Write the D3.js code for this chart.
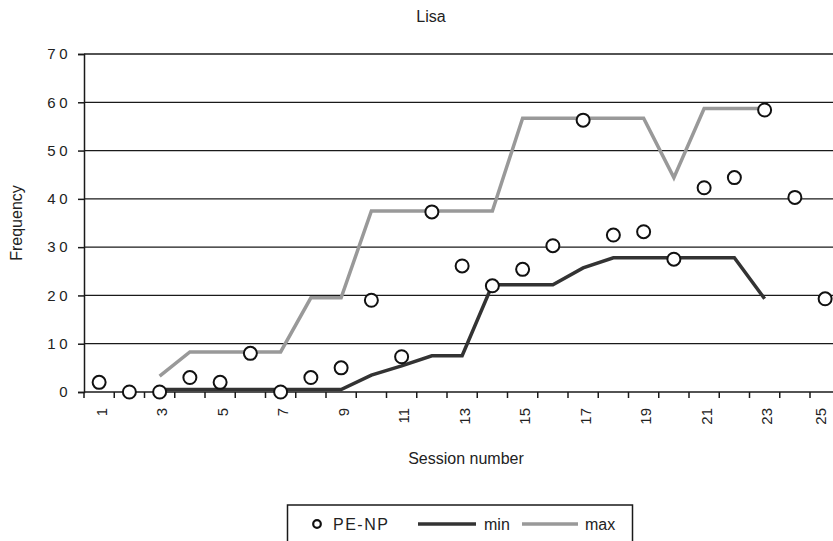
<!DOCTYPE html>
<html>
<head>
<meta charset="utf-8">
<script src="https://cdn.jsdelivr.net/npm/d3@7"></script>
<style>
  html, body { margin: 0; padding: 0; background: #fff; }
  svg { display: block; font-family: "Liberation Sans", Arial, sans-serif; }
</style>
</head>
<body>
<svg id="chart" width="833" height="541"></svg>
<script>
const sessions = d3.range(1, 26);
const peNp = [2, 0, 0, 3, 2, 8, 0, 3, 5, 19, 7.3, 37.3, 26.1, 22, 25.4, 30.3, 56.3, 32.5, 33.2, 27.5, 42.3, 44.4, 58.4, 40.3, 19.3];
const minVals = [null, null, 0.5, 0.5, 0.5, 0.5, 0.5, 0.5, 0.5, 3.5, 5.4, 7.5, 7.5, 22.2, 22.2, 22.2, 25.7, 27.8, 27.8, 27.8, 27.8, 27.8, 19.3, null, null];
const maxVals = [null, null, 3.3, 8.3, 8.3, 8.3, 8.3, 19.5, 19.5, 37.5, 37.5, 37.5, 37.5, 37.5, 56.7, 56.7, 56.7, 56.7, 56.7, 44.4, 58.7, 58.7, 58.7, null, null];
const yTicks = [0, 10, 20, 30, 40, 50, 60, 70];
const xLabels = sessions.filter(d => d % 2 === 1);

const svg = d3.select("#chart");
const pLeft = 84, pRight = 840.25, pTop = 54, pBottom = 392;
const FONT = "Liberation Sans, Arial, sans-serif";

const x = d3.scaleBand().domain(sessions).range([pLeft, pRight]).padding(0);
const y = d3.scaleLinear().domain([0, 70]).range([pBottom, pTop]);
const cx = d => x(d) + x.bandwidth() / 2;

// gridlines
svg.append("g").selectAll("line").data(yTicks.filter(d => d > 0)).join("line")
  .attr("x1", pLeft).attr("x2", 833)
  .attr("y1", d => y(d)).attr("y2", d => y(d))
  .attr("stroke", "#1a1a1a").attr("stroke-width", 1.3);

// y axis
const yAxis = svg.append("g").attr("transform", `translate(${pLeft},0)`)
  .call(d3.axisLeft(y).tickValues(yTicks).tickSize(6).tickPadding(7));
yAxis.attr("font-size", null).attr("font-family", null);
yAxis.select(".domain").attr("stroke", "#1a1a1a").attr("stroke-width", 1.5);
yAxis.selectAll(".tick line").attr("stroke", "#1a1a1a").attr("stroke-width", 1.5);
yAxis.selectAll(".tick text").style("font-size", "15px").style("letter-spacing", "3.5px")
  .attr("fill", "#222").style("font-family", FONT);

// x axis line
svg.append("line").attr("x1", pLeft).attr("x2", 833).attr("y1", pBottom).attr("y2", pBottom)
  .attr("stroke", "#1a1a1a").attr("stroke-width", 1.5);
// x ticks at band boundaries
const bounds = sessions.map(d => x(d)).concat([pRight]);
svg.append("g").selectAll("line").data(bounds).join("line")
  .attr("x1", d => d).attr("x2", d => d).attr("y1", pBottom).attr("y2", pBottom + 6)
  .attr("stroke", "#1a1a1a").attr("stroke-width", 1.5);
// x labels
svg.append("g").selectAll("text").data(xLabels).join("text")
  .attr("transform", d => `translate(${Math.min(cx(d) + 7.5, 826)},${pBottom + 16}) rotate(-90)`)
  .attr("text-anchor", "end")
  .style("font-size", "15px").attr("fill", "#222")
  .text(d => d);

// lines
const line = d3.line().defined(d => d.v !== null).x(d => cx(d.s)).y(d => y(d.v));
svg.append("path").datum(sessions.map((s, i) => ({ s, v: maxVals[i] })))
  .attr("d", line).attr("fill", "none").attr("stroke", "#999999").attr("stroke-width", 3.5)
  .attr("stroke-linejoin", "miter");
svg.append("path").datum(sessions.map((s, i) => ({ s, v: minVals[i] })))
  .attr("d", line).attr("fill", "none").attr("stroke", "#333333").attr("stroke-width", 3.5)
  .attr("stroke-linejoin", "miter");

// points
svg.append("g").selectAll("circle").data(sessions.map((s, i) => ({ s, v: peNp[i] }))).join("circle")
  .attr("cx", d => cx(d.s)).attr("cy", d => y(d.v)).attr("r", 6.5)
  .attr("fill", "#fff").attr("stroke", "#111").attr("stroke-width", 2);

// titles
svg.append("text").attr("x", 431).attr("y", 22).attr("text-anchor", "middle")
  .style("font-size", "16px").attr("fill", "#222").text("Lisa");
svg.append("text").attr("x", 466).attr("y", 464).attr("text-anchor", "middle")
  .style("font-size", "16px").attr("fill", "#222").text("Session number");
svg.append("text").attr("transform", `translate(22,${(pTop + pBottom) / 2}) rotate(-90)`)
  .attr("text-anchor", "middle").style("font-size", "16px").attr("fill", "#222").text("Frequency");

// legend
const lg = svg.append("g");
lg.append("rect").attr("x", 287.5).attr("y", 505).attr("width", 345).attr("height", 50)
  .attr("fill", "#fff").attr("stroke", "#1a1a1a").attr("stroke-width", 1.5);
lg.append("circle").attr("cx", 317).attr("cy", 524).attr("r", 3.8)
  .attr("fill", "#fff").attr("stroke", "#111").attr("stroke-width", 2.2);
lg.append("text").attr("x", 333).attr("y", 530).style("font-size", "16px").style("letter-spacing", "1.5px")
  .attr("fill", "#222").text("PE-NP");
lg.append("line").attr("x1", 418).attr("x2", 476).attr("y1", 524).attr("y2", 524)
  .attr("stroke", "#333").attr("stroke-width", 3.5);
lg.append("text").attr("x", 484).attr("y", 530).style("font-size", "16px").attr("fill", "#222").text("min");
lg.append("line").attr("x1", 522).attr("x2", 578).attr("y1", 524).attr("y2", 524)
  .attr("stroke", "#999").attr("stroke-width", 3.5);
lg.append("text").attr("x", 585).attr("y", 530).style("font-size", "16px").attr("fill", "#222").text("max");
</script>
</body>
</html>
